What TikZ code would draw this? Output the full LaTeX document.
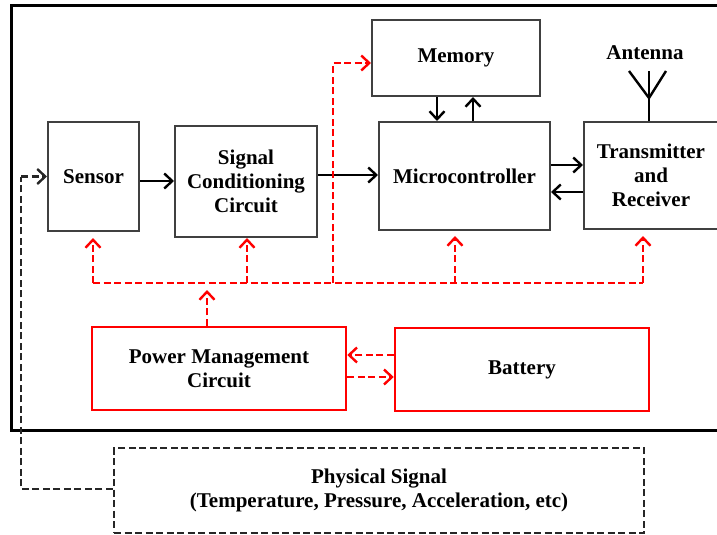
\documentclass[tikz,border=0pt]{standalone}
\usepackage{fontspec}
\setmainfont{Liberation Serif}
\usetikzlibrary{arrows.meta,positioning}

\begin{document}
\begin{tikzpicture}[x=1pt,y=-1pt,
    font=\fontsize{21}{24}\selectfont\bfseries,
    block/.style={draw=black!75, line width=2pt, align=center, inner sep=0pt},
    pblock/.style={draw=red, line width=2.5pt, align=center, inner sep=0pt},
    sig/.style={line width=2.4pt, -{Straight Barb[length=8pt,width=15pt,line width=2.4pt]}},
    pwr/.style={red, line width=2.4pt, dash pattern=on 7pt off 3.5pt,
        -{Straight Barb[length=8pt,width=15pt,line width=2.4pt]}},
    pwrline/.style={red, line width=2.4pt, dash pattern=on 7pt off 3.5pt},
    fb/.style={black!85, line width=2.4pt, dash pattern=on 7pt off 3.5pt}
]
\useasboundingbox (0,0) rectangle (717,535);

% ---- Sistema ----
\draw[line width=3pt] (11,6) rectangle (740,430);

\node[block, minimum width=91pt, minimum height=109pt] (sensor) at (93.5,176.5) {Sensor};
\node[block, minimum width=142pt, minimum height=111pt] (sigcond) at (246,181.5) {Signal\\Conditioning\\Circuit};
\node[block, minimum width=168pt, minimum height=76pt] (memory) at (456,58) {Memory};
\node[block, minimum width=171pt, minimum height=108pt] (micro) at (464.5,176) {Microcontroller};
\node[block, minimum width=134pt, minimum height=107pt] (trx) at (651,175.5) {Transmitter\\and\\Receiver};

% Antena
\node[inner sep=0pt] (antlabel) at (645,53) {Antenna};
\coordinate (anttop) at (649,71);
\coordinate (antjoin) at (649,98);
\draw[line width=2.4pt] (trx.north -| anttop) -- (anttop);
\draw[line width=2.4pt] (629,71) -- (antjoin) -- (666,71);

% Flechas de datos
\draw[sig] (sensor.east |- 0,181) -- (sigcond.west |- 0,181);
\draw[sig] (sigcond.east |- 0,175) -- (micro.west |- 0,175);
\draw[sig] (micro.east |- 0,165) -- (trx.west |- 0,165);
\draw[sig] (trx.west |- 0,192) -- (micro.east |- 0,192);
\draw[sig] (memory.south -| 437,0) -- (micro.north -| 437,0);
\draw[sig] (micro.north -| 473,0) -- (memory.south -| 473,0);

% ---- Alimentacion ----
\node[pblock, minimum width=254pt, minimum height=83pt] (power) at (219,368.5) {Power Management\\Circuit};
\node[pblock, minimum width=254pt, minimum height=83pt] (battery) at (522,369.5) {Battery};

\coordinate (busL) at (93,283);
\coordinate (busS) at (247,283);
\coordinate (busP) at (207,283);
\coordinate (busM) at (333,283);
\coordinate (busC) at (455,283);
\coordinate (busR) at (643,283);

\draw[pwrline] (busL) -- (busR);
\draw[pwr, shorten >=6pt] (busL) -- (busL |- sensor.south);
\draw[pwr] (busS) -- (busS |- sigcond.south);
\draw[pwr, shorten >=5pt] (busC) -- (busC |- micro.south);
\draw[pwr, shorten >=6pt] (busR) -- (busR |- trx.south);
\draw[pwr] (busM) |- ([yshift=-5pt]memory.west);
\draw[pwr, shorten >=7pt] (busP |- power.north) -- (busP);

\draw[pwr] (battery.west |- 0,355) -- (power.east |- 0,355);
\draw[pwr] (power.east |- 0,377) -- (battery.west |- 0,377);

% ---- Senal fisica ----
\node[draw=black!85, line width=2.4pt, dash pattern=on 7pt off 3.5pt, align=center,
      inner sep=0pt, minimum width=530pt, minimum height=85pt] (physig) at (379,490.5)
      {Physical Signal\\(Temperature, Pressure, Acceleration, etc)};

\coordinate (fbk) at (21,489);
\draw[fb] (physig.west |- fbk) -- (fbk) -- (fbk |- sensor.west);
\draw[fb, -{Straight Barb[length=8pt,width=15pt,line width=2.4pt]}] (fbk |- sensor.west) -- (sensor.west);

\end{tikzpicture}
\end{document}
